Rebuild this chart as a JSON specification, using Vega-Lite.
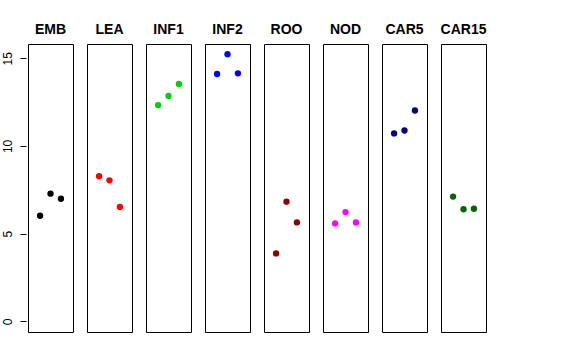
{
  "$schema": "https://vega.github.io/schema/vega-lite/v6.json",
  "background": "white",
  "padding": {"left": 0, "top": 23, "right": 5, "bottom": 5},
  "data": {"values": [
    {"tissue": "EMB", "rep": 1, "value": 6.02},
    {"tissue": "EMB", "rep": 2, "value": 7.28},
    {"tissue": "EMB", "rep": 3, "value": 6.99},
    {"tissue": "LEA", "rep": 1, "value": 8.27},
    {"tissue": "LEA", "rep": 2, "value": 8.04},
    {"tissue": "LEA", "rep": 3, "value": 6.52},
    {"tissue": "INF1", "rep": 1, "value": 12.33},
    {"tissue": "INF1", "rep": 2, "value": 12.85},
    {"tissue": "INF1", "rep": 3, "value": 13.53},
    {"tissue": "INF2", "rep": 1, "value": 14.10},
    {"tissue": "INF2", "rep": 2, "value": 15.23},
    {"tissue": "INF2", "rep": 3, "value": 14.14},
    {"tissue": "ROO", "rep": 1, "value": 3.87},
    {"tissue": "ROO", "rep": 2, "value": 6.82},
    {"tissue": "ROO", "rep": 3, "value": 5.64},
    {"tissue": "NOD", "rep": 1, "value": 5.58},
    {"tissue": "NOD", "rep": 2, "value": 6.23},
    {"tissue": "NOD", "rep": 3, "value": 5.64},
    {"tissue": "CAR5", "rep": 1, "value": 10.71},
    {"tissue": "CAR5", "rep": 2, "value": 10.88},
    {"tissue": "CAR5", "rep": 3, "value": 12.02},
    {"tissue": "CAR15", "rep": 1, "value": 7.11},
    {"tissue": "CAR15", "rep": 2, "value": 6.39},
    {"tissue": "CAR15", "rep": 3, "value": 6.42}
  ]},
  "facet": {
    "column": {
      "field": "tissue",
      "type": "nominal",
      "sort": ["EMB", "LEA", "INF1", "INF2", "ROO", "NOD", "CAR5", "CAR15"],
      "header": {
        "title": null,
        "labelFont": "Liberation Sans",
        "labelFontWeight": "bold",
        "labelFontSize": 14,
        "labelColor": "black",
        "labelPadding": 6
      }
    }
  },
  "spacing": 12,
  "spec": {
    "width": 45,
    "height": 288,
    "mark": {"type": "circle", "size": 40, "opacity": 1},
    "encoding": {
      "x": {"field": "rep", "type": "quantitative", "axis": null,
            "scale": {"domain": [-0.16, 4.16], "nice": false, "zero": false}},
      "y": {"field": "value", "type": "quantitative",
            "scale": {"domain": [-0.608, 15.81], "nice": false, "zero": false},
            "axis": {"title": null, "values": [0, 5, 10, 15], "grid": false,
                     "domain": false, "tickSize": 6, "tickColor": "black", "offset": 1,
                     "labelAngle": -90, "labelAlign": "center", "labelBaseline": "bottom",
                     "labelFont": "Liberation Sans", "labelFontSize": 12, "labelColor": "black",
                     "labelPadding": 6}},
      "color": {"field": "tissue", "type": "nominal", "legend": null,
                "scale": {"domain": ["EMB", "LEA", "INF1", "INF2", "ROO", "NOD", "CAR5", "CAR15"],
                          "range": ["#000000", "#FF0000", "#00CD00", "#0000FF", "#8B0000", "#FF00FF", "#00008B", "#006400"]}}
    }
  },
  "config": {
    "view": {"stroke": "black", "strokeWidth": 1}
  }
}
